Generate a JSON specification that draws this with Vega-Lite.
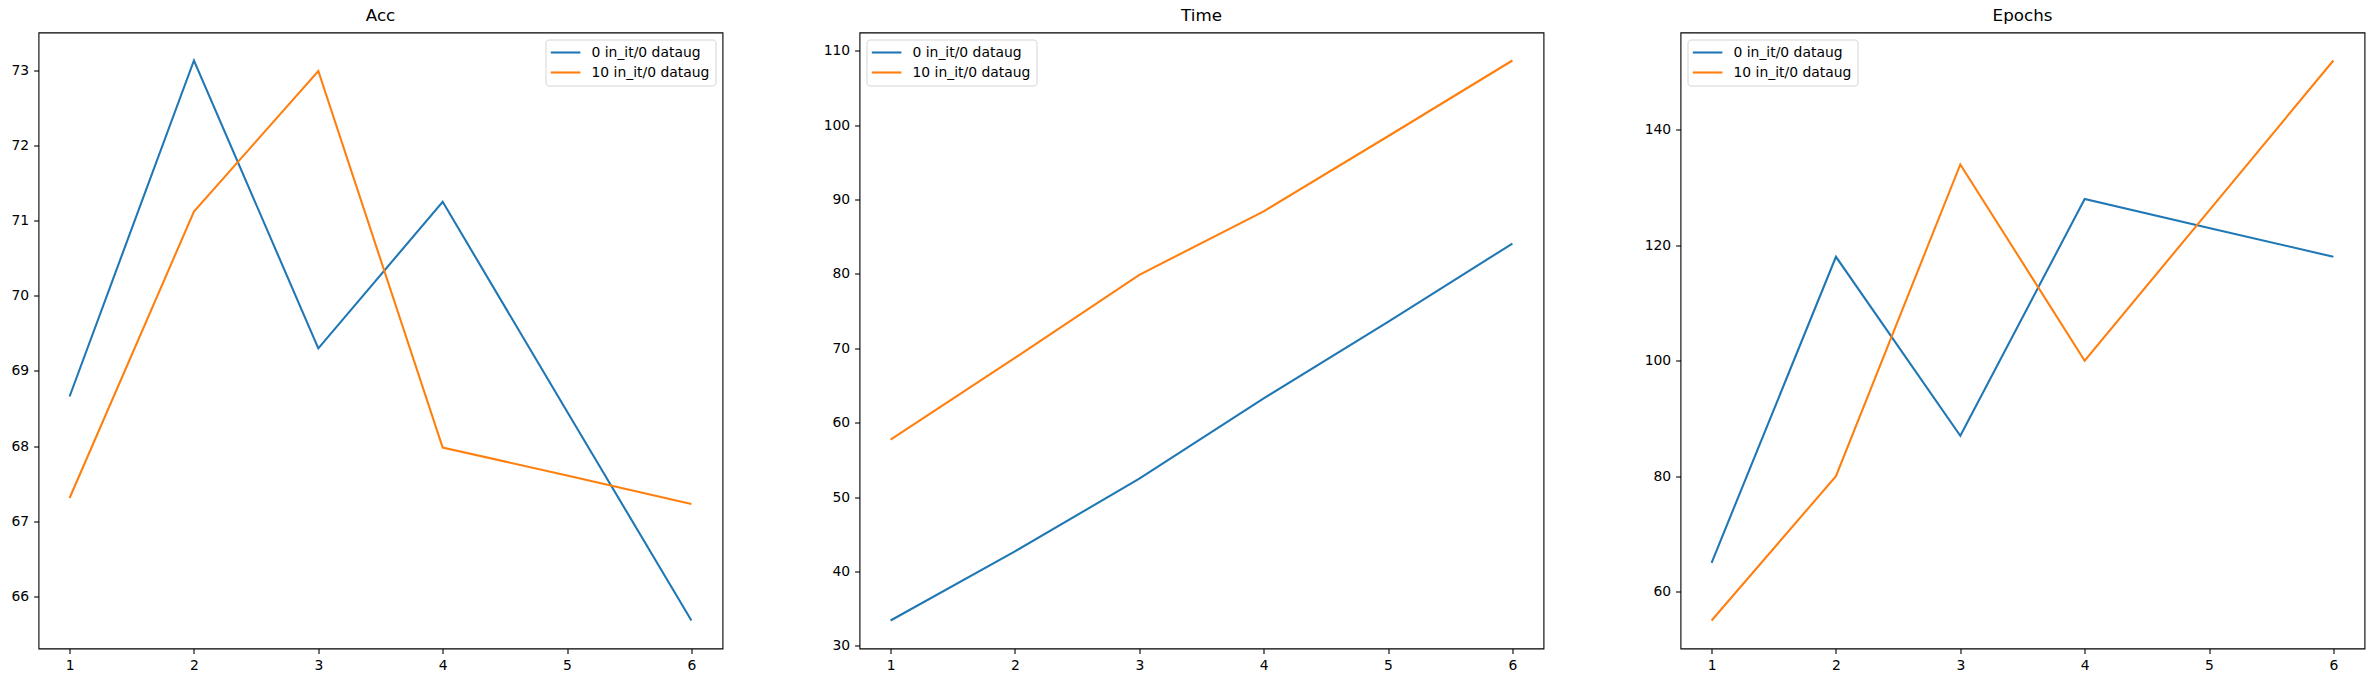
{
  "$schema": "https://vega.github.io/schema/vega-lite/v6.json",
  "padding": {"left": 9.5, "top": 6.5, "right": 5, "bottom": 5},
  "background": "white",
  "datasets": {
    "acc": [
      {"x": 1, "series": "0 in_it/0 dataug", "value": 68.66},
      {"x": 2, "series": "0 in_it/0 dataug", "value": 73.13},
      {"x": 3, "series": "0 in_it/0 dataug", "value": 69.30},
      {"x": 4, "series": "0 in_it/0 dataug", "value": 71.25},
      {"x": 5, "series": "0 in_it/0 dataug", "value": 68.46},
      {"x": 6, "series": "0 in_it/0 dataug", "value": 65.68},
      {"x": 1, "series": "10 in_it/0 dataug", "value": 67.31},
      {"x": 2, "series": "10 in_it/0 dataug", "value": 71.12},
      {"x": 3, "series": "10 in_it/0 dataug", "value": 72.99},
      {"x": 4, "series": "10 in_it/0 dataug", "value": 67.98},
      {"x": 5, "series": "10 in_it/0 dataug", "value": 67.61},
      {"x": 6, "series": "10 in_it/0 dataug", "value": 67.23}
    ],
    "time": [
      {"x": 1, "series": "0 in_it/0 dataug", "value": 33.39},
      {"x": 2, "series": "0 in_it/0 dataug", "value": 42.69},
      {"x": 3, "series": "0 in_it/0 dataug", "value": 52.46},
      {"x": 4, "series": "0 in_it/0 dataug", "value": 63.27},
      {"x": 5, "series": "0 in_it/0 dataug", "value": 73.57},
      {"x": 6, "series": "0 in_it/0 dataug", "value": 84.09},
      {"x": 1, "series": "10 in_it/0 dataug", "value": 57.72},
      {"x": 2, "series": "10 in_it/0 dataug", "value": 68.71},
      {"x": 3, "series": "10 in_it/0 dataug", "value": 79.88},
      {"x": 4, "series": "10 in_it/0 dataug", "value": 88.42},
      {"x": 5, "series": "10 in_it/0 dataug", "value": 98.52},
      {"x": 6, "series": "10 in_it/0 dataug", "value": 108.71}
    ],
    "epochs": [
      {"x": 1, "series": "0 in_it/0 dataug", "value": 65},
      {"x": 2, "series": "0 in_it/0 dataug", "value": 118},
      {"x": 3, "series": "0 in_it/0 dataug", "value": 87},
      {"x": 4, "series": "0 in_it/0 dataug", "value": 128},
      {"x": 5, "series": "0 in_it/0 dataug", "value": 123},
      {"x": 6, "series": "0 in_it/0 dataug", "value": 118},
      {"x": 1, "series": "10 in_it/0 dataug", "value": 55},
      {"x": 2, "series": "10 in_it/0 dataug", "value": 80},
      {"x": 3, "series": "10 in_it/0 dataug", "value": 134},
      {"x": 4, "series": "10 in_it/0 dataug", "value": 100},
      {"x": 5, "series": "10 in_it/0 dataug", "value": 126},
      {"x": 6, "series": "10 in_it/0 dataug", "value": 152}
    ]
  },
  "spacing": 137,
  "bounds": "flush",
  "resolve": {"scale": {"color": "independent", "y": "independent"}, "legend": {"color": "independent"}},
  "hconcat": [
    {
      "title": "Acc",
      "width": 684,
      "height": 616,
      "data": {"name": "acc"},
      "mark": {"type": "line", "strokeWidth": 2.08},
      "encoding": {
        "x": {"field": "x", "type": "quantitative", "scale": {"domain": [0.75, 6.25], "nice": false, "zero": false}, "axis": {"values": [1, 2, 3, 4, 5, 6], "format": "d"}},
        "y": {"field": "value", "type": "quantitative", "scale": {"domain": [65.3075, 73.5025], "nice": false, "zero": false}, "axis": {"values": [66, 67, 68, 69, 70, 71, 72, 73], "format": "d"}},
        "color": {"field": "series", "type": "nominal", "scale": {"domain": ["0 in_it/0 dataug", "10 in_it/0 dataug"], "range": ["#1f77b4", "#ff7f0e"]},
          "legend": {"orient": "top-right", "symbolType": "M-1.3,0H3.7", "symbolSize": 140, "symbolStrokeWidth": 2.1, "labelOffset": 26, "padding": 6, "rowPadding": 6}}
      }
    },
    {
      "title": "Time",
      "width": 684,
      "height": 616,
      "data": {"name": "time"},
      "mark": {"type": "line", "strokeWidth": 2.08},
      "encoding": {
        "x": {"field": "x", "type": "quantitative", "scale": {"domain": [0.75, 6.25], "nice": false, "zero": false}, "axis": {"values": [1, 2, 3, 4, 5, 6], "format": "d"}},
        "y": {"field": "value", "type": "quantitative", "scale": {"domain": [29.624, 112.476], "nice": false, "zero": false}, "axis": {"values": [30, 40, 50, 60, 70, 80, 90, 100, 110], "format": "d"}},
        "color": {"field": "series", "type": "nominal", "scale": {"domain": ["0 in_it/0 dataug", "10 in_it/0 dataug"], "range": ["#1f77b4", "#ff7f0e"]},
          "legend": {"orient": "top-left", "symbolType": "M-1.3,0H3.7", "symbolSize": 140, "symbolStrokeWidth": 2.1, "labelOffset": 26, "padding": 6, "rowPadding": 6}}
      }
    },
    {
      "title": "Epochs",
      "width": 684,
      "height": 616,
      "data": {"name": "epochs"},
      "mark": {"type": "line", "strokeWidth": 2.08},
      "encoding": {
        "x": {"field": "x", "type": "quantitative", "scale": {"domain": [0.75, 6.25], "nice": false, "zero": false}, "axis": {"values": [1, 2, 3, 4, 5, 6], "format": "d"}},
        "y": {"field": "value", "type": "quantitative", "scale": {"domain": [50.15, 156.85], "nice": false, "zero": false}, "axis": {"values": [60, 80, 100, 120, 140], "format": "d"}},
        "color": {"field": "series", "type": "nominal", "scale": {"domain": ["0 in_it/0 dataug", "10 in_it/0 dataug"], "range": ["#1f77b4", "#ff7f0e"]},
          "legend": {"orient": "top-left", "symbolType": "M-1.3,0H3.7", "symbolSize": 140, "symbolStrokeWidth": 2.1, "labelOffset": 26, "padding": 6, "rowPadding": 6}}
      }
    }
  ],
  "config": {
    "font": "DejaVu Sans",
    "view": {"stroke": "black", "strokeWidth": 1.1},
    "axis": {
      "domain": false,
      "grid": false,
      "title": null,
      "ticks": true,
      "tickColor": "black",
      "tickWidth": 1.1,
      "tickSize": 4.9,
      "labelPadding": 4.9,
      "labelFont": "DejaVu Sans",
      "labelFontSize": 13.9,
      "labelColor": "black",
      "labelFlush": false,
      "labelOverlap": false
    },
    "title": {
      "font": "DejaVu Sans",
      "fontSize": 16.7,
      "fontWeight": "normal",
      "color": "black",
      "offset": 8.3,
      "baseline": "alphabetic",
      "frame": "group",
      "anchor": "middle"
    },
    "legend": {
      "title": null,
      "offset": 7,
      "labelFont": "DejaVu Sans",
      "labelFontSize": 13.9,
      "labelColor": "black",
      "fillColor": "white",
      "strokeColor": "#d5d5d5",
      "cornerRadius": 3
    }
  }
}
